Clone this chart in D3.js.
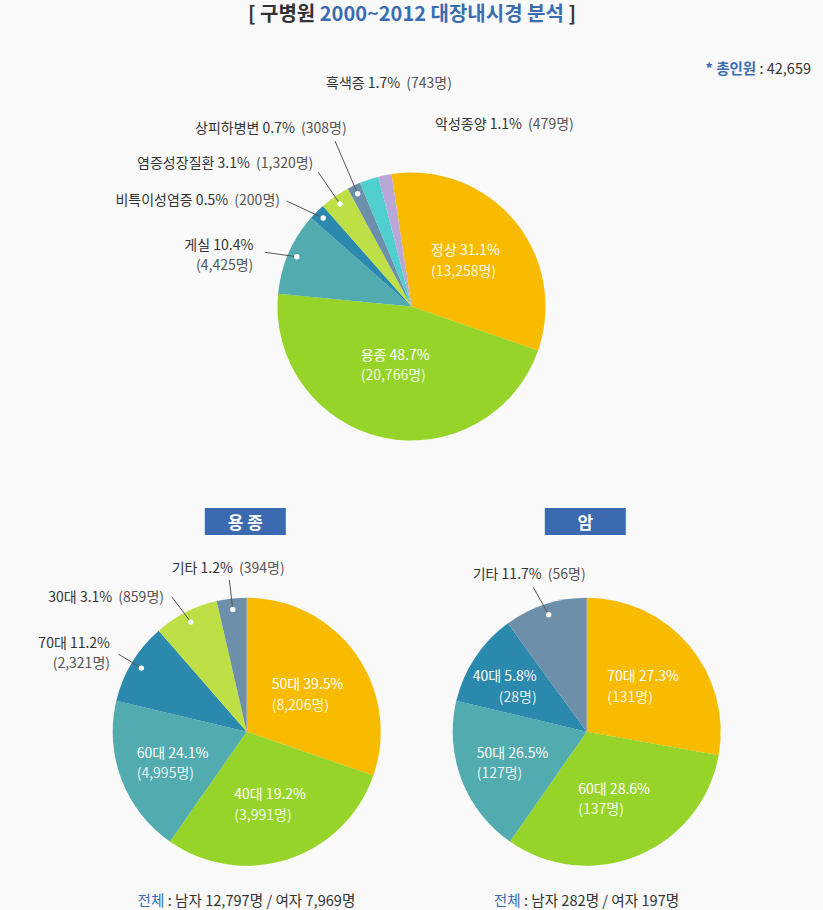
<!DOCTYPE html>
<html><head><meta charset="utf-8">
<script src="https://cdn.jsdelivr.net/npm/d3@7"></script>
<style>
html,body{margin:0;padding:0;background:#f9f9f9;}
svg{display:block;}
</style></head>
<body>
<svg id="chart" width="823" height="910"></svg>
<script>
// ---------- DATA ----------
const totalPeople = 42659;

// Top pie: 구병원 2000~2012 대장내시경 분석
const topCategories = ["정상","용종","게실","비특이성염증","염증성장질환","상피하병변","흑색증","악성종양"];
const topPercents   = [31.1, 48.7, 10.4, 0.5, 3.1, 0.7, 1.7, 1.1];
const topCounts     = [13258, 20766, 4425, 200, 1320, 308, 743, 479];
// slice sizes as drawn in the picture (share of the circle, %)
const topSliceShares = [32.7, 46.2, 10.0, 2.0, 3.6, 1.6, 2.3, 1.6];

// Bottom-left pie: 용종
const polypCategories = ["50대","40대","60대","70대","30대","기타"];
const polypPercents   = [39.5, 19.2, 24.1, 11.2, 3.1, 1.2];
const polypCounts     = [8206, 3991, 4995, 2321, 859, 394];
const polypSliceShares = [30.3, 29.4, 19.0, 9.9, 7.8, 3.6];
const polypMale = 12797, polypFemale = 7969;

// Bottom-right pie: 암
const cancerCategories = ["70대","60대","50대","40대","기타"];
const cancerPercents   = [27.3, 28.6, 26.5, 5.8, 11.7];
const cancerCounts     = [131, 137, 127, 28, 56];
const cancerSliceShares = [27.8, 31.9, 19.0, 11.3, 10.0];
const cancerMale = 282, cancerFemale = 197;

// ---------- STYLE / LAYOUT ----------
const FONT = "'Noto Sans CJK KR','Noto Sans',sans-serif";
const C = {yellow:"#f8bb00", green:"#97d42a", teal:"#52abae", dteal:"#2a89ad",
           lgreen:"#bee046", gblue:"#6d8faa", cyan:"#4fcfd0", lav:"#b9a8d7"};
const BLUE = "#3a6cb1", DARK = "#333", GRAY = "#555";

const svg = d3.select("#chart");
svg.append("rect").attr("width",823).attr("height",910).attr("fill","#f9f9f9");

// Title
const title = svg.append("text").attr("x",412).attr("y",21).attr("text-anchor","middle")
  .attr("font-family",FONT).attr("font-size",20).attr("font-weight","bold");
title.append("tspan").attr("fill",DARK).text("[ 구병원 ");
title.append("tspan").attr("fill",BLUE).text("2000~2012 대장내시경 분석");
title.append("tspan").attr("fill",DARK).text(" ]");

// Total
const tot = svg.append("text").attr("x",811).attr("y",74).attr("text-anchor","end")
  .attr("font-family",FONT).attr("font-size",14.5);
tot.append("tspan").attr("fill",BLUE).attr("font-weight","bold").text("* 총인원");
tot.append("tspan").attr("fill",DARK).text(" : " + d3.format(",")(totalPeople));

const fmt = d3.format(",");

function drawPie(cfg){
  const data = cfg.cats.map((c,i)=>({cat:c, pct:cfg.pcts[i], count:cfg.counts[i], share:cfg.shares[i], color:cfg.colors[i], lay:cfg.layout[i]}));
  const a0 = cfg.startDeg*Math.PI/180;
  const pie = d3.pie().sort(null).value(d=>d.share).startAngle(a0).endAngle(a0+2*Math.PI);
  const arc = d3.arc().innerRadius(0).outerRadius(cfg.r);
  const g = svg.append("g").attr("transform",`translate(${cfg.cx},${cfg.cy})`);
  const arcs = pie(data);
  g.selectAll("path.slice").data(arcs).enter().append("path")
    .attr("class","slice").attr("d",arc).attr("fill",d=>d.data.color);

  arcs.forEach(a=>{
    const L = a.data.lay;
    const mid = (a.startAngle+a.endAngle)/2;
    if(L.line){
      const dx = Math.sin(mid)*cfg.dotR, dy = -Math.cos(mid)*cfg.dotR;
      g.append("line").attr("x1",dx).attr("y1",dy).attr("x2",L.line[0]).attr("y2",L.line[1])
        .attr("stroke","#555").attr("stroke-width",1);
      g.append("circle").attr("cx",dx).attr("cy",dy).attr("r",2.7).attr("fill","#fff");
    }
    const inside = L.type==="in";
    const c1 = inside ? "#fff" : DARK;
    const c2 = inside ? "rgba(255,255,255,0.88)" : GRAY;
    const t = g.append("text").attr("x",L.x).attr("y",L.y1).attr("text-anchor",L.anchor)
      .attr("font-family",FONT).attr("font-size",14);
    t.append("tspan").attr("fill",c1).text(`${a.data.cat} ${a.data.pct}%`);
    if(L.y2===undefined){
      t.append("tspan").attr("fill",c2).attr("dx",3).text(` (${fmt(a.data.count)}명)`);
    } else {
      g.append("text").attr("x",L.x).attr("y",L.y2).attr("text-anchor",L.anchor)
        .attr("font-family",FONT).attr("font-size",14).attr("fill",c2)
        .text(`(${fmt(a.data.count)}명)`);
    }
  });
}

// Top pie
drawPie({cx:411.5, cy:306.5, r:134, dotR:125, startDeg:-8.6,
  cats:topCategories, pcts:topPercents, counts:topCounts, shares:topSliceShares,
  colors:[C.yellow,C.green,C.teal,C.dteal,C.lgreen,C.gblue,C.cyan,C.lav],
  layout:[
    {type:"in", anchor:"start", x:19.5, y1:-51.5, y2:-30.5},
    {type:"in", anchor:"start", x:-50.8, y1:53.5, y2:73.5},
    {type:"out", anchor:"end", x:-158.2, y1:-56.5, y2:-36.5, line:[-146.5,-54.2]},
    {type:"out", anchor:"end", x:-131.5, y1:-102, line:[-124.8,-105.5]},
    {type:"out", anchor:"end", x:-98.2, y1:-138.5, line:[-93.2,-134.2]},
    {type:"out", anchor:"end", x:-64.8, y1:-173.5, line:[-76.5,-165.5]},
    {type:"out", anchor:"middle", x:-22.5, y1:-218.5},
    {type:"out", anchor:"start", x:23.5, y1:-178}
  ]});

// Bottom-left pie (용종)
drawPie({cx:246.7, cy:731.7, r:134, dotR:123, startDeg:0,
  cats:polypCategories, pcts:polypPercents, counts:polypCounts, shares:polypSliceShares,
  colors:[C.yellow,C.green,C.teal,C.dteal,C.lgreen,C.gblue],
  layout:[
    {type:"in", anchor:"start", x:25, y1:-42.4, y2:-21.7},
    {type:"in", anchor:"start", x:-12.4, y1:67.6, y2:88.3},
    {type:"in", anchor:"start", x:-110, y1:26.6, y2:46.6},
    {type:"out", anchor:"end", x:-136.7, y1:-83.4, y2:-63.4, line:[-128.4,-77.7]},
    {type:"out", anchor:"end", x:-82.7, y1:-130, line:[-75,-135]},
    {type:"out", anchor:"start", x:-75, y1:-158.4, line:[-17.4,-151.7]}
  ]});

// Bottom-right pie (암)
drawPie({cx:586.7, cy:731.7, r:134, dotR:123, startDeg:0,
  cats:cancerCategories, pcts:cancerPercents, counts:cancerCounts, shares:cancerSliceShares,
  colors:[C.yellow,C.green,C.teal,C.dteal,C.gblue],
  layout:[
    {type:"in", anchor:"start", x:20.6, y1:-50.7, y2:-30},
    {type:"in", anchor:"start", x:-8.4, y1:62.3, y2:82.6},
    {type:"in", anchor:"start", x:-110, y1:26.6, y2:46.6},
    {type:"in", anchor:"end", x:-50, y1:-50.7, y2:-30},
    {type:"out", anchor:"start", x:-114, y1:-152.7, line:[-53.4,-144.4]}
  ]});

// Headers
[[245.3,"용 종"],[585.3,"암"]].forEach(([x,label])=>{
  svg.append("rect").attr("x",x-40.5).attr("y",508).attr("width",81).attr("height",27).attr("fill","#3b6ab0");
  svg.append("text").attr("x",x).attr("y",528.5).attr("text-anchor","middle")
    .attr("font-family",FONT).attr("font-size",17).attr("font-weight","bold").attr("fill","#fff")
    .attr("xml:space","preserve").text(label);
});

// Footers
[[246.5,polypMale,polypFemale],[586.5,cancerMale,cancerFemale]].forEach(([x,m,f])=>{
  const t = svg.append("text").attr("x",x).attr("y",906).attr("text-anchor","middle")
    .attr("font-family",FONT).attr("font-size",14.6);
  t.append("tspan").attr("fill",BLUE).text("전체");
  t.append("tspan").attr("fill",DARK).text(` : 남자 ${fmt(m)}명 / 여자 ${fmt(f)}명`);
});
</script>
</body></html>
